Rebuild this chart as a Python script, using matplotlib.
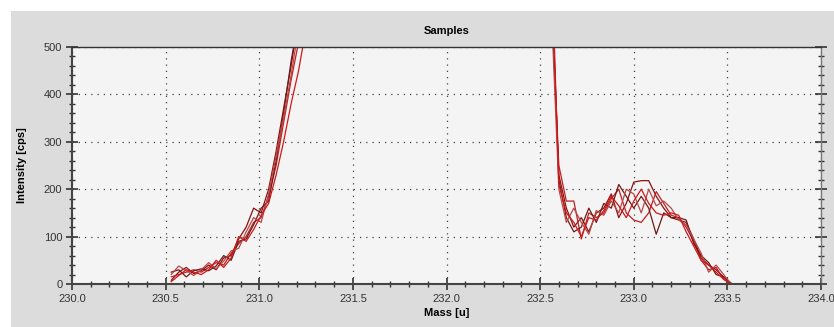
import matplotlib
matplotlib.use("Agg")
import matplotlib.pyplot as plt
from matplotlib.patches import Rectangle
from matplotlib.ticker import MultipleLocator, FormatStrFormatter

# mass grids (u) for the two visible flanks
mass_left = [230.53, 230.57, 230.61, 230.65, 230.69, 230.73, 230.77, 230.81, 230.85, 230.89,
             230.93, 230.97, 231.01, 231.05, 231.09, 231.13, 231.17, 231.21, 231.25]
mass_right = [232.56, 232.60, 232.64, 232.68, 232.72, 232.76, 232.80, 232.84, 232.88, 232.92,
              232.96, 233.00, 233.04, 233.08, 233.12, 233.16, 233.20, 233.24, 233.28, 233.32,
              233.36, 233.40, 233.44, 233.48, 233.52]

# intensities (cps), one list per sample
left_1 = [8, 25, 35, 22, 28, 40, 30, 55, 60, 95, 120, 160, 150, 200, 280, 370, 460, 560, 680]
left_2 = [15, 20, 25, 30, 25, 35, 45, 40, 65, 85, 100, 130, 140, 185, 250, 340, 430, 510, 620]
left_3 = [25, 30, 15, 28, 32, 28, 38, 60, 50, 90, 95, 125, 160, 175, 260, 360, 470, 560, 700]
left_4 = [20, 38, 28, 18, 30, 45, 32, 48, 70, 75, 110, 140, 130, 190, 270, 350, 440, 540, 650]
left_5 = [5, 18, 30, 25, 20, 30, 50, 35, 55, 100, 90, 115, 145, 170, 230, 300, 380, 450, 540]

right_1 = [620, 230, 160, 120, 140, 110, 150, 160, 190, 140, 170, 215, 218, 218, 185, 160,
           140, 135, 130, 95, 55, 40, 30, 15, 0]
right_2 = [600, 250, 175, 175, 95, 150, 140, 150, 180, 200, 150, 135, 130, 150, 195, 170,
           145, 140, 120, 90, 50, 30, 35, 10, 0]
right_3 = [650, 220, 140, 110, 120, 160, 130, 170, 160, 210, 185, 160, 185, 160, 105, 150,
           140, 140, 135, 85, 60, 45, 20, 15, 2]
right_4 = [580, 200, 130, 160, 130, 105, 155, 145, 175, 150, 200, 190, 150, 200, 165, 175,
           160, 135, 125, 95, 65, 25, 40, 20, 0]
right_5 = [700, 210, 150, 130, 100, 140, 135, 155, 185, 165, 140, 175, 200, 170, 150, 145,
           150, 145, 110, 80, 50, 40, 25, 10, 0]

lefts = [left_1, left_2, left_3, left_4, left_5]
rights = [right_1, right_2, right_3, right_4, right_5]
colors = ["#8b1010", "#c02020", "#6e1a1a", "#b84848", "#d01818"]

plt.rcParams["font.family"] = ["Liberation Sans", "DejaVu Sans"]

fig = plt.figure(figsize=(8.34, 3.27), dpi=100, facecolor="white")
fig.patches.append(Rectangle((11 / 834, 0), 1, 316 / 327, transform=fig.transFigure,
                             facecolor="#dcdcdc", edgecolor="none", zorder=-10))
ax = fig.add_axes([72 / 834, 43 / 327, 749 / 834, 237 / 327])
ax.set_facecolor("#f4f4f4")

for yl, yr, c in zip(lefts, rights, colors):
    ax.plot(mass_left, yl, color=c, linewidth=0.9)
    ax.plot(mass_right, yr, color=c, linewidth=0.9)

ax.set_xlim(230.0, 234.0)
ax.set_ylim(0, 500)
ax.xaxis.set_major_locator(MultipleLocator(0.5))
ax.xaxis.set_minor_locator(MultipleLocator(0.1))
ax.xaxis.set_major_formatter(FormatStrFormatter("%.1f"))
ax.yaxis.set_major_locator(MultipleLocator(100))
ax.yaxis.set_minor_locator(MultipleLocator(20))

ax.grid(True, which="major", color="#444444", linestyle=(0, (1, 4)), linewidth=0.9)
ax.tick_params(which="major", direction="inout", length=8, width=1.2, color="#333333",
               labelsize=8, labelcolor="#333333", pad=3)
ax.tick_params(which="minor", direction="inout", length=5, width=1.0, color="#333333")
ax.tick_params(axis="y", which="both", right=True)

for side in ["left", "bottom"]:
    ax.spines[side].set_color("#444444")
    ax.spines[side].set_linewidth(1.5)
ax.spines["top"].set_color("#333333")
ax.spines["top"].set_linewidth(1.0)
ax.spines["right"].set_color("#777777")
ax.spines["right"].set_linewidth(1.0)

ax.set_title("Samples", fontsize=8, fontweight="bold", pad=9)
ax.set_xlabel("Mass [u]", fontsize=8, fontweight="bold", labelpad=3)
ax.set_ylabel("Intensity [cps]", fontsize=8, fontweight="bold", labelpad=12)

fig.savefig("out.png", dpi=100)
